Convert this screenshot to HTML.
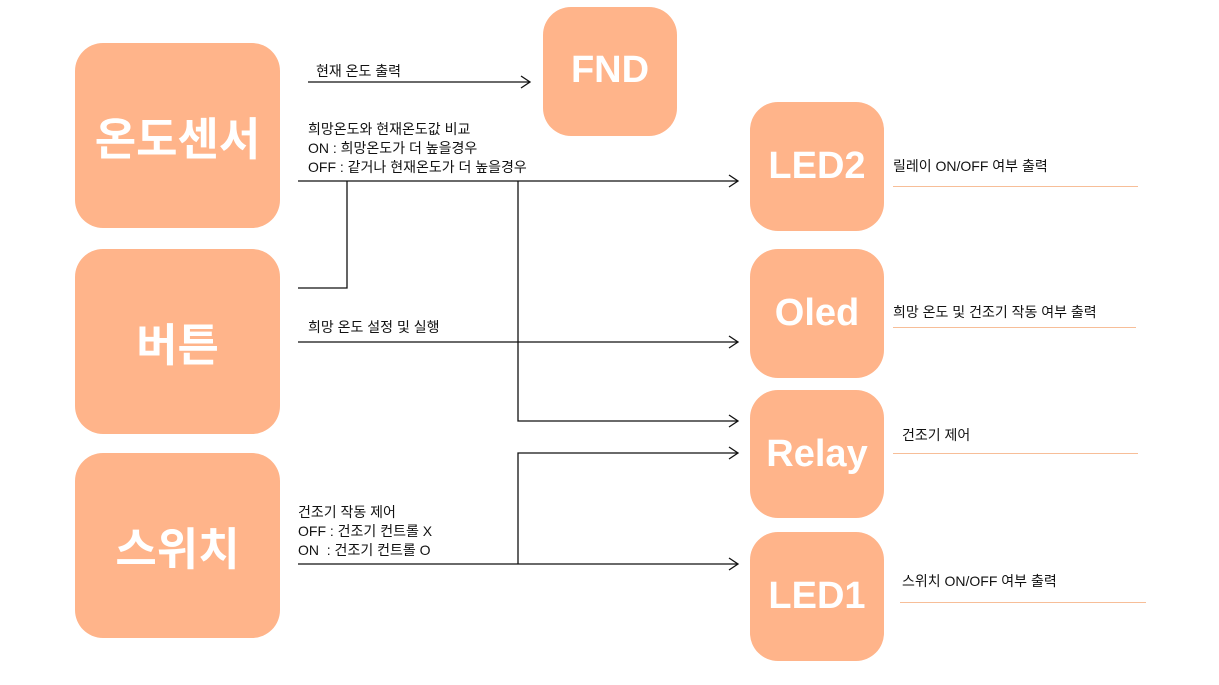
<!DOCTYPE html>
<html><head><meta charset="utf-8"><style>
body{margin:0;width:1219px;height:685px;background:#fff;position:relative;overflow:hidden;font-family:"Liberation Sans","Noto Sans CJK KR",sans-serif}
.b{position:absolute;background:#FFB48A;border-radius:28px;color:#fff;font-weight:bold;display:flex;align-items:center;justify-content:center;font-family:"Liberation Sans","Noto Sans CJK KR",sans-serif}
.big{font-size:45px}
.sm{font-size:38px}
.t{position:absolute;font-size:14px;color:#111;line-height:19px;white-space:nowrap}
.u{position:absolute;height:1px;background:#F7BE98}
</style></head><body>
<div class="b big" style="left:75px;top:43px;width:205px;height:185px">온도센서</div>
<div class="b big" style="left:75px;top:249px;width:205px;height:185px">버튼</div>
<div class="b big" style="left:75px;top:453px;width:205px;height:185px">스위치</div>
<div class="b sm" style="left:543px;top:7px;width:134px;height:129px;align-items:flex-start;padding-top:0"><span style="margin-top:42px">FND</span></div>
<div class="b sm" style="left:750px;top:102px;width:134px;height:129px">LED2</div>
<div class="b sm" style="left:750px;top:249px;width:134px;height:129px">Oled</div>
<div class="b sm" style="left:750px;top:390px;width:134px;height:128px">Relay</div>
<div class="b sm" style="left:750px;top:532px;width:134px;height:129px">LED1</div>
<svg width="1219" height="685" style="position:absolute;left:0;top:0" fill="none" stroke="#111" stroke-width="1.3">
<path d="M308 82H530M521 76L530 82L521 88"/>
<path d="M298 181H738M729 175L738 181L729 187"/>
<path d="M347 181V288H298"/>
<path d="M518 181V421H738M729 415L738 421L729 427"/>
<path d="M298 342H738M729 336L738 342L729 348"/>
<path d="M298 564H738M729 558L738 564L729 570"/>
<path d="M518 564V453H738M729 447L738 453L729 459"/>
</svg>
<div class="t" style="left:316px;top:62px">현재 온도 출력</div>
<div class="t" style="left:308px;top:120px">희망온도와 현재온도값 비교<br>ON : 희망온도가 더 높을경우<br>OFF : 같거나 현재온도가 더 높을경우</div>
<div class="t" style="left:308px;top:318px">희망 온도 설정 및 실행</div>
<div class="t" style="left:298px;top:503px">건조기 작동 제어<br>OFF : 건조기 컨트롤 X<br>ON&nbsp; : 건조기 컨트롤 O</div>
<div class="t" style="left:893px;top:157px">릴레이 ON/OFF 여부 출력</div>
<div class="u" style="left:893px;top:186px;width:245px"></div>
<div class="t" style="left:893px;top:303px">희망 온도 및 건조기 작동 여부 출력</div>
<div class="u" style="left:893px;top:327px;width:243px"></div>
<div class="t" style="left:902px;top:426px">건조기 제어</div>
<div class="u" style="left:893px;top:453px;width:245px"></div>
<div class="t" style="left:902px;top:572px">스위치 ON/OFF 여부 출력</div>
<div class="u" style="left:900px;top:602px;width:246px"></div>
</body></html>
